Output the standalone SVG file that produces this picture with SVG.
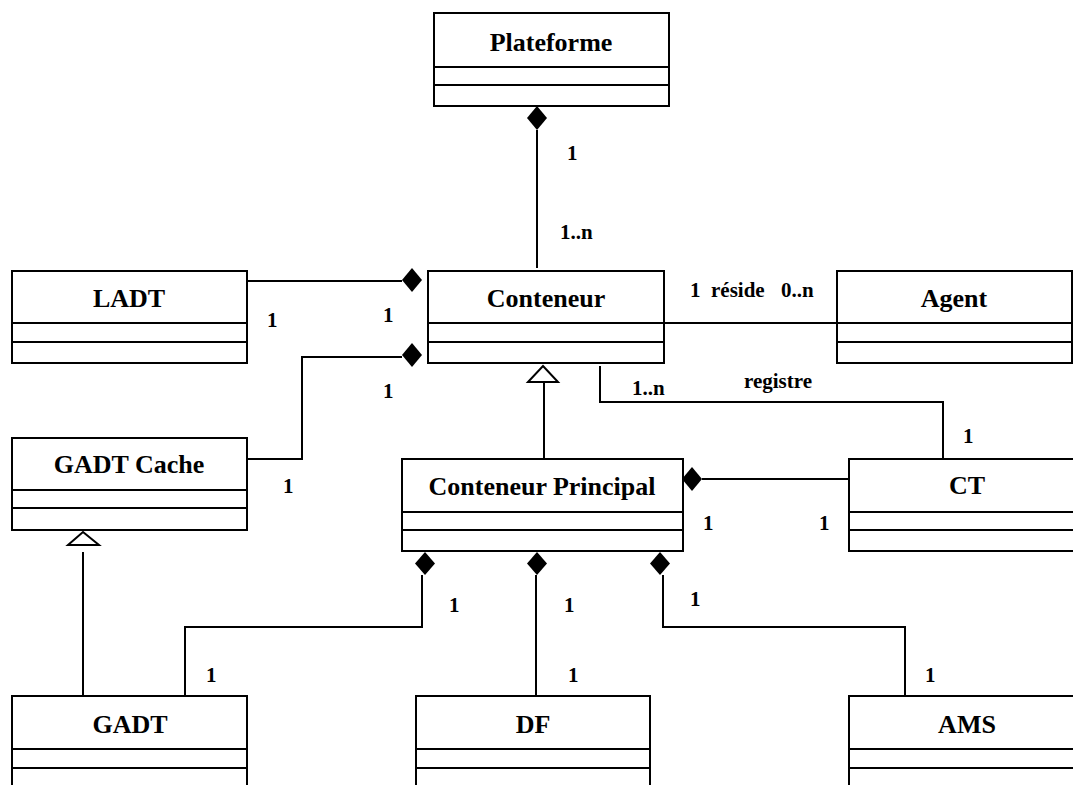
<svg xmlns="http://www.w3.org/2000/svg" width="1073" height="785" viewBox="0 0 1073 785">
<style>
.box{fill:#fff;stroke:#000;stroke-width:2}
.div{stroke:#000;stroke-width:2}
.t{font-family:"Liberation Serif","Times New Roman",serif;font-weight:bold;font-size:26px;text-anchor:middle;fill:#000}
.l{font-family:"Liberation Serif","Times New Roman",serif;font-weight:bold;font-size:21px;fill:#000}
.c{fill:none;stroke:#000;stroke-width:2}
.dm{fill:#000;stroke:none}
.tri{fill:#fff;stroke:#000;stroke-width:2}
</style>
<rect width="1073" height="785" fill="#fff"/>
<g id="connectors">
<path class="c" d="M537 130V268"/>
<path class="dm" d="M537 106L547 118L537 130L527 118Z"/>
<path class="c" d="M247 281H402"/>
<path class="dm" d="M412 268L422 280L412 292L402 280Z"/>
<path class="c" d="M247 459H302V357H402"/>
<path class="dm" d="M412 343L422 355L412 367L402 355Z"/>
<path class="c" d="M664 323H837"/>
<path class="c" d="M600 366V402H943V459"/>
<path class="c" d="M544 382V459"/>
<path class="tri" d="M543 366L558 382H528Z"/>
<path class="c" d="M702 479H849"/>
<path class="dm" d="M692 467L702 479L692 491L682 479Z"/>
<path class="c" d="M83 552V696"/>
<path class="tri" d="M83 532L99 545H68Z"/>
<path class="c" d="M422 575V627H185V696"/>
<path class="dm" d="M425 552L435 563.5L425 575L415 563.5Z"/>
<path class="c" d="M536 575V696"/>
<path class="dm" d="M537 552L547 563.5L537 575L527 563.5Z"/>
<path class="c" d="M663 575V627H905V696"/>
<path class="dm" d="M660 552L670 563.5L660 575L650 563.5Z"/>
<text class="l" x="567" y="160">1</text>
<text class="l" x="560" y="239">1..n</text>
<text class="l" x="267" y="327">1</text>
<text class="l" x="383" y="322">1</text>
<text class="l" x="383" y="398">1</text>
<text class="l" x="283" y="493">1</text>
<text class="l" x="690" y="297">1</text>
<text class="l" x="711" y="297">réside</text>
<text class="l" x="781" y="297">0..n</text>
<text class="l" x="632" y="395">1..n</text>
<text class="l" x="744" y="388">registre</text>
<text class="l" x="963" y="443">1</text>
<text class="l" x="703" y="530">1</text>
<text class="l" x="819" y="530">1</text>
<text class="l" x="449" y="612">1</text>
<text class="l" x="564" y="612">1</text>
<text class="l" x="690" y="606">1</text>
<text class="l" x="206" y="682">1</text>
<text class="l" x="568" y="682">1</text>
<text class="l" x="925" y="682">1</text>
</g>
<g id="plateforme">
<rect class="box" x="434" y="13" width="235" height="93"/>
<path class="div" d="M434 67H669M434 85H669"/>
<text class="t" x="551" y="51">Plateforme</text>
</g>
<g id="ladt">
<rect class="box" x="12" y="271" width="235" height="92"/>
<path class="div" d="M12 323H247M12 342H247"/>
<text class="t" x="129" y="307">LADT</text>
</g>
<g id="conteneur">
<rect class="box" x="428" y="271" width="236" height="92"/>
<path class="div" d="M428 323H664M428 342H664"/>
<text class="t" x="546" y="307">Conteneur</text>
</g>
<g id="agent">
<rect class="box" x="837" y="271" width="235" height="92"/>
<path class="div" d="M837 323H1072M837 342H1072"/>
<text class="t" x="954" y="307">Agent</text>
</g>
<g id="gadt-cache">
<rect class="box" x="12" y="438" width="235" height="92"/>
<path class="div" d="M12 490H247M12 508H247"/>
<text class="t" x="129" y="473">GADT Cache</text>
</g>
<g id="conteneur-principal">
<rect class="box" x="402" y="459" width="281" height="92"/>
<path class="div" d="M402 512H683M402 530H683"/>
<text class="t" x="542" y="495">Conteneur Principal</text>
</g>
<g id="ct">
<rect class="box" x="849" y="459" width="240" height="92"/>
<path class="div" d="M849 512H1089M849 530H1089"/>
<text class="t" x="967" y="494">CT</text>
</g>
<g id="gadt">
<rect class="box" x="12" y="696" width="235" height="100"/>
<path class="div" d="M12 749H247M12 768H247"/>
<text class="t" x="130" y="733">GADT</text>
</g>
<g id="df">
<rect class="box" x="416" y="696" width="234" height="100"/>
<path class="div" d="M416 749H650M416 768H650"/>
<text class="t" x="533" y="733">DF</text>
</g>
<g id="ams">
<rect class="box" x="849" y="696" width="240" height="100"/>
<path class="div" d="M849 749H1089M849 768H1089"/>
<text class="t" x="967" y="733">AMS</text>
</g>
</svg>
